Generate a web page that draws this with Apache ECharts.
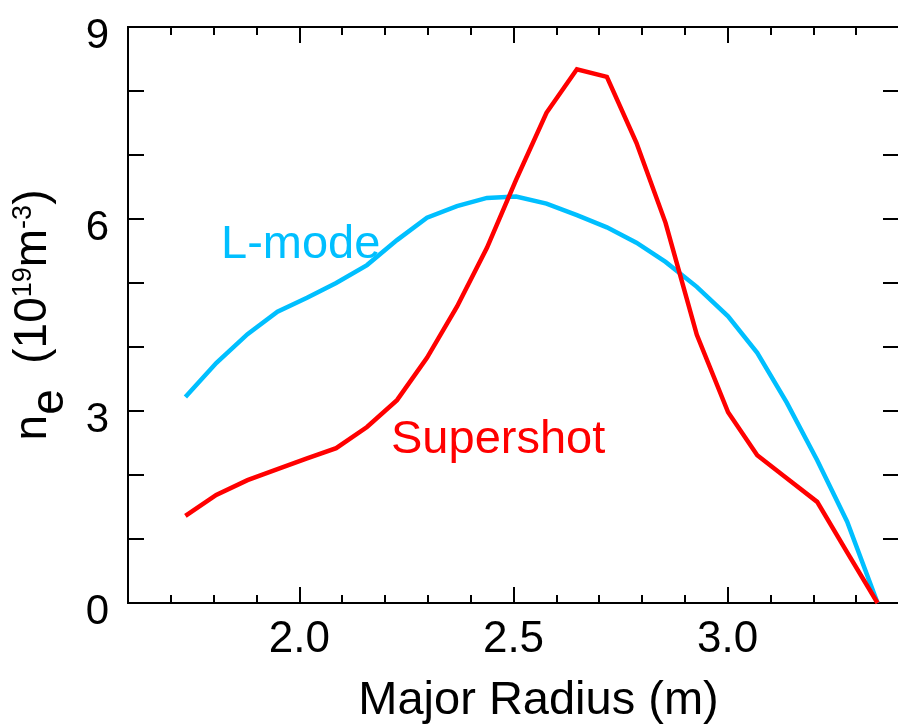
<!DOCTYPE html>
<html>
<head>
<meta charset="utf-8">
<script src="https://cdn.jsdelivr.net/npm/echarts@6/dist/echarts.min.js"></script>
<style>
  html, body { margin: 0; padding: 0; background: #ffffff; }
  #chart { width: 898px; height: 725px; }
</style>
</head>
<body>
<div id="chart"></div>
<script>
// Electron density profiles across the major radius
const radius = [1.734, 1.806, 1.879, 1.949, 2.018, 2.086, 2.158, 2.228, 2.298, 2.368, 2.438, 2.506,
                2.577, 2.648, 2.718, 2.787, 2.855, 2.928, 3.001, 3.069, 3.138, 3.209, 3.279, 3.350];
const lmodeDensity = [3.22, 3.75, 4.20, 4.55, 4.77, 5.00, 5.28, 5.67, 6.02, 6.20, 6.33, 6.35,
                      6.24, 6.06, 5.87, 5.63, 5.33, 4.94, 4.48, 3.91, 3.13, 2.23, 1.27, 0.00];
const supershotDensity = [1.36, 1.69, 1.92, 2.09, 2.26, 2.42, 2.75, 3.17, 3.83, 4.63, 5.55, 6.61,
                          7.66, 8.34, 8.22, 7.19, 5.94, 4.19, 2.98, 2.31, 1.95, 1.58, 0.79, 0.00];

// Axis ticks and labels
const xMajorTicks = [2.0, 2.5, 3.0];
const xMinorTicks = [1.7, 1.8, 1.9, 2.1, 2.2, 2.3, 2.4, 2.6, 2.7, 2.8, 2.9, 3.1, 3.2, 3.3];
const yTicks = [0, 1, 2, 3, 4, 5, 6, 7, 8, 9];
const yTickLabels = [0, 3, 6, 9];

const FONT = "'Liberation Sans', Arial, Helvetica, sans-serif";
const BLACK = '#000000';
const CYAN = '#00BFFF';
const RED = '#FF0000';

const chart = echarts.init(document.getElementById('chart'), null, { renderer: 'canvas' });

function xAxisDef(position, ticks, len, withLabels) {
  return {
    type: 'value',
    position: position,
    min: 1.6,
    max: 3.4,
    axisLine: { show: true, onZero: false, lineStyle: { color: BLACK, width: 2 } },
    axisTick: { show: true, inside: true, length: len, customValues: ticks,
                lineStyle: { color: BLACK, width: 2 } },
    axisLabel: withLabels ? {
      show: true, customValues: xMajorTicks, margin: 15,
      color: BLACK, fontSize: 44, fontFamily: FONT,
      formatter: v => Number(v).toFixed(1)
    } : { show: false },
    splitLine: { show: false }
  };
}

function yAxisDef(position, withLabels) {
  return {
    type: 'value',
    position: position,
    min: 0,
    max: 9,
    interval: 3,
    axisLine: { show: true, onZero: false, lineStyle: { color: BLACK, width: 2 } },
    axisTick: { show: true, inside: true, length: 16, customValues: yTicks,
                lineStyle: { color: BLACK, width: 2 } },
    axisLabel: withLabels ? {
      show: true, customValues: yTickLabels, margin: 19,
      color: BLACK, fontSize: 42, fontFamily: FONT,
      verticalAlign: 'top', lineHeight: 18
    } : { show: false },
    splitLine: { show: false }
  };
}

const xBottom = xAxisDef('bottom', xMajorTicks, 16, true);
xBottom.name = 'Major Radius (m)';
xBottom.nameLocation = 'middle';
xBottom.nameGap = 75;
xBottom.nameTextStyle = { color: BLACK, fontSize: 47, fontFamily: FONT, padding: [0, 0, 0, 50] };

const yLeft = yAxisDef('left', true);
yLeft.name = '{m|n}{s|e}{m|  (10}{p|19}{m|m}{p|-3}{m|)}';
yLeft.nameLocation = 'middle';
yLeft.nameGap = 55;
yLeft.nameTextStyle = {
  color: BLACK, fontFamily: FONT,
  rich: {
    m: { fontSize: 46, lineHeight: 80, height: 80, verticalAlign: 'middle', fontFamily: FONT, color: BLACK },
    s: { fontSize: 46, lineHeight: 46, height: 46, verticalAlign: 'bottom', fontFamily: FONT, color: BLACK },
    p: { fontSize: 27, lineHeight: 62, height: 62, verticalAlign: 'top', fontFamily: FONT, color: BLACK }
  }
};

const option = {
  animation: false,
  backgroundColor: '#ffffff',
  grid: { left: 128, right: -1, top: 27, bottom: 122, containLabel: false, outerBoundsMode: 'none' },
  xAxis: [
    xBottom,
    xAxisDef('bottom', xMinorTicks, 8, false),
    xAxisDef('top', xMajorTicks, 16, false),
    xAxisDef('top', xMinorTicks, 8, false)
  ],
  yAxis: [
    yLeft,
    yAxisDef('right', false)
  ],
  series: [
    {
      name: 'L-mode',
      type: 'line',
      xAxisIndex: 0,
      yAxisIndex: 0,
      showSymbol: false,
      symbol: 'none',
      lineStyle: { color: CYAN, width: 4.5, join: 'miter' },
      data: radius.map((r, i) => [r, lmodeDensity[i]])
    },
    {
      name: 'Supershot',
      type: 'line',
      xAxisIndex: 0,
      yAxisIndex: 0,
      showSymbol: false,
      symbol: 'none',
      lineStyle: { color: RED, width: 4.5, join: 'miter' },
      data: radius.map((r, i) => [r, supershotDensity[i]])
    }
  ],
  graphic: [
    { type: 'text', left: 221, top: 222,
      style: { text: 'L-mode', fill: CYAN, fontSize: 47, fontFamily: FONT } },
    { type: 'text', left: 391, top: 417,
      style: { text: 'Supershot', fill: RED, fontSize: 47, fontFamily: FONT } }
  ]
};

chart.setOption(option);
</script>
</body>
</html>
